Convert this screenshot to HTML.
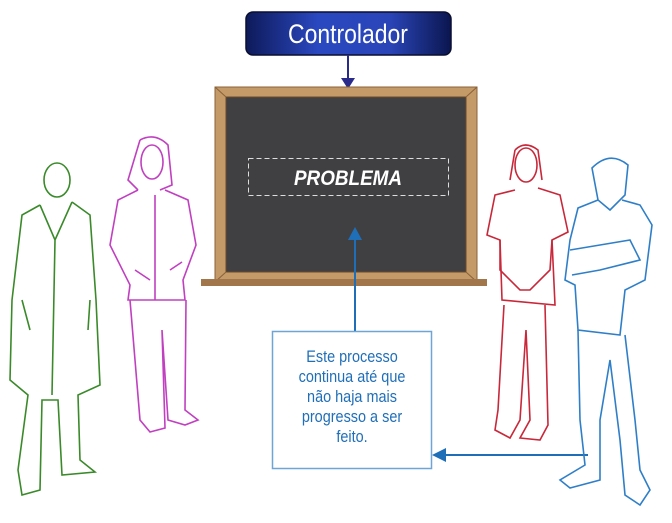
<!DOCTYPE html>
<html><head><meta charset="utf-8"><style>
body{margin:0;background:#fff;width:672px;height:518px;overflow:hidden;font-family:"Liberation Sans",sans-serif}
</style></head><body>
<svg width="672" height="518" viewBox="0 0 672 518" xmlns="http://www.w3.org/2000/svg">
<defs>
<linearGradient id="g" x1="0" x2="1"><stop offset="0" stop-color="#0e1a5a"/><stop offset=".35" stop-color="#2a48c0"/><stop offset=".7" stop-color="#2a45b8"/><stop offset="1" stop-color="#0b1650"/></linearGradient>
</defs>
<rect x="246" y="12" width="205" height="43" rx="7" fill="url(#g)" stroke="#0a0f30" stroke-width="1.5"/>
<text x="348" y="43" text-anchor="middle" font-size="27" fill="#fff" transform="translate(348 0) scale(0.85 1) translate(-348 0)">Controlador</text>
<line x1="348" y1="55" x2="348" y2="80" stroke="#2a2a8a" stroke-width="2"/>
<polygon points="341,78 355,78 348,89" fill="#2a2a8a"/>
<rect x="215" y="87" width="262" height="195" fill="#c49a68" stroke="#8a6238"/>
<rect x="226" y="97" width="240" height="175" fill="#404043" stroke="#6b4a2a"/>
<line x1="215" y1="87" x2="226" y2="97" stroke="#8a6238"/><line x1="477" y1="87" x2="466" y2="97" stroke="#8a6238"/>
<line x1="215" y1="282" x2="226" y2="272" stroke="#8a6238"/><line x1="477" y1="282" x2="466" y2="272" stroke="#8a6238"/>
<rect x="201" y="279" width="286" height="7" fill="#a0764a"/>
<rect x="248.5" y="158.5" width="200" height="37" fill="none" stroke="#ddd" stroke-dasharray="5,3"/>
<text x="348" y="185" text-anchor="middle" font-size="21" font-style="italic" font-weight="bold" fill="#fff" transform="translate(348 0) scale(0.9 1) translate(-348 0)">PROBLEMA</text>
<line x1="355" y1="331" x2="355" y2="238" stroke="#1f6fb8" stroke-width="2"/>
<polygon points="348,240 362,240 355,227" fill="#1f6fb8"/>
<rect x="272.5" y="331.5" width="159" height="137" fill="#fff" stroke="#6fa5d6" stroke-width="1.5"/>
<g font-size="17" fill="#1f6fb8" text-anchor="middle" transform="translate(352 0) scale(0.85 1) translate(-352 0)">
<text x="352" y="362">Este processo</text>
<text x="352" y="382">continua até que</text>
<text x="352" y="402">não haja mais</text>
<text x="352" y="422">progresso a ser</text>
<text x="352" y="442">feito.</text>
</g>
<line x1="588" y1="455" x2="444" y2="455" stroke="#1f6fb8" stroke-width="2"/>
<polygon points="432,455 446,448 446,462" fill="#1f6fb8"/>
<g fill="none" stroke="#3a8a2a" stroke-width="1.6">
<ellipse cx="57" cy="180" rx="13" ry="17"/>
<path d="M40 205 L22 215 L12 300 L10 380 L28 395 L18 470 L22 495 L40 490 L42 400 L58 400 L62 475 L95 472 L80 460 L78 395 L100 385 L96 300 L90 215 L72 202"/>
<path d="M40 205 L55 240 L72 202 M55 240 L52 395 M22 300 L30 330 M90 300 L88 330"/>
</g>
<g fill="none" stroke="#c040c0" stroke-width="1.6">
<path d="M140 140 Q155 132 168 145 L172 185 L160 190 M140 140 L128 180 L138 190"/>
<ellipse cx="152" cy="162" rx="11" ry="17"/>
<path d="M138 190 L118 200 L110 245 L130 285 L128 300 L185 300 L183 280 L196 245 L188 200 L165 190"/>
<path d="M130 300 L140 420 L150 432 L165 428 L162 330 L168 420 L185 425 L198 420 L185 410 L186 300"/>
<path d="M155 195 L155 300 M135 270 L150 280 M170 270 L182 262"/>
</g>
<g fill="none" stroke="#c8283a" stroke-width="1.6">
<path d="M515 150 Q525 140 538 150 L542 180 M515 150 L510 180"/>
<ellipse cx="526" cy="165" rx="11" ry="17"/>
<path d="M515 190 L495 195 L487 235 L500 240 L502 300 L555 305 L552 240 L568 232 L560 195 L538 188"/>
<path d="M500 240 L500 270 L520 290 L530 290 L550 270 L552 240"/>
<path d="M504 305 L498 410 L495 430 L510 438 L520 420 L526 330 L530 420 L520 438 L540 440 L548 425 L545 305"/>
</g>
<g fill="none" stroke="#2f7fc8" stroke-width="1.6">
<path d="M592 168 Q610 150 628 165 L625 195 L610 210 L598 200 Z"/>
<path d="M598 200 L578 208 L570 240 L565 280 L575 285 L578 330 L620 335 L625 290 L645 280 L652 225 L640 205 L622 200"/>
<path d="M570 250 L600 245 L630 240 L640 260 L600 270 L572 275"/>
<path d="M578 330 L580 420 L585 465 L560 480 L570 488 L600 480 L600 420 L610 360 L620 440 L625 495 L640 505 L650 490 L640 470 L635 420 L625 335"/>
</g>
</svg>
</body></html>
